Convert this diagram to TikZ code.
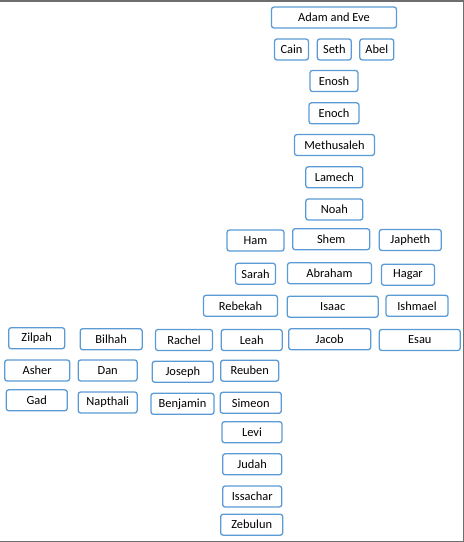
\documentclass[tikz,border=0pt]{standalone}
\usepackage{fontspec}
\setmainfont{Carlito}
\usepackage{tikz}
\definecolor{boxblue}{RGB}{91,155,213}
\definecolor{framegray}{RGB}{110,110,110}
\tikzset{
  per/.style   = {draw=boxblue, line width=1.3pt, rounded corners=2.5pt,
                  fill=white, minimum height=21pt, inner sep=0pt,
                  font=\fontsize{12.4}{14}\selectfont},
  frm/.style   = {draw=framegray, line width=1.5pt},
}
\begin{document}
\begin{tikzpicture}[x=1pt, y=-1pt]
  \useasboundingbox (0,0) rectangle (464,542);
  % frame
  \draw[frm] (0,0.75) -- (463.25,0.75) -- (463.25,541.25) -- (0,541.25);
  % Adam to Noah
  \node[per, minimum width=125pt] (adam) at (334,17.5) {Adam and Eve};
  \node[per, minimum width=34pt] (cain) at (291.5,49.5) {Cain};
  \node[per, minimum width=34pt] (seth) at (334.3,49.5) {Seth};
  \node[per, minimum width=34pt] (abel) at (376.8,49.5) {Abel};
  \node[per, minimum width=48pt] (enosh) at (334,81) {Enosh};
  \node[per, minimum width=50pt] (enoch) at (334,113.3) {Enoch};
  \node[per, minimum width=80pt] (methusaleh) at (334.5,145) {Methusaleh};
  \node[per, minimum width=57pt] (lamech) at (334.3,177.3) {Lamech};
  \node[per, minimum width=57pt] (noah) at (334.3,209.5) {Noah};
  % sons of Noah
  \node[per, minimum width=57pt] (ham) at (255.5,240.5) {Ham};
  \node[per, minimum width=77pt] (shem) at (331.2,239.2) {Shem};
  \node[per, minimum width=62pt] (japheth) at (410.3,240) {Japheth};
  % Abraham
  \node[per, minimum width=40pt] (sarah) at (255.5,273.8) {Sarah};
  \node[per, minimum width=84pt] (abraham) at (329.5,273.2) {Abraham};
  \node[per, minimum width=53pt] (hagar) at (408,274.8) {Hagar};
  \node[per, minimum width=74pt] (rebekah) at (240.5,305.8) {Rebekah};
  \node[per, minimum width=91pt] (isaac) at (332.7,306.7) {Isaac};
  \node[per, minimum width=62pt] (ishmael) at (417,305.8) {Ishmael};
  % Jacob and wives
  \node[per, minimum width=56pt] (zilpah) at (36.7,338.2) {Zilpah};
  \node[per, minimum width=62pt] (bilhah) at (111.2,339.2) {Bilhah};
  \node[per, minimum width=57pt] (rachel) at (184,340) {Rachel};
  \node[per, minimum width=61pt] (leah) at (251.7,340) {Leah};
  \node[per, minimum width=82pt] (jacob) at (329.7,339.2) {Jacob};
  \node[per, minimum width=81pt] (esau) at (419.8,340) {Esau};
  % sons of Jacob
  \node[per, minimum width=65pt] (asher) at (37.2,370.5) {Asher};
  \node[per, minimum width=59pt] (dan) at (107.7,370.5) {Dan};
  \node[per, minimum width=61pt] (joseph) at (182.8,371.8) {Joseph};
  \node[per, minimum width=58pt] (reuben) at (249.7,370.7) {Reuben};
  \node[per, minimum width=61pt] (gad) at (36.8,400.3) {Gad};
  \node[per, minimum width=59pt] (napthali) at (107.7,402.5) {Napthali};
  \node[per, minimum width=63pt] (benjamin) at (182.5,403.8) {Benjamin};
  \node[per, minimum width=61pt] (simeon) at (250.8,402.8) {Simeon};
  \node[per, minimum width=60pt] (levi) at (252,432.2) {Levi};
  \node[per, minimum width=59pt] (judah) at (252.2,464.3) {Judah};
  \node[per, minimum width=59pt] (issachar) at (252.2,496.5) {Issachar};
  \node[per, minimum width=62pt] (zebulun) at (251.7,524.7) {Zebulun};
\end{tikzpicture}
\end{document}
